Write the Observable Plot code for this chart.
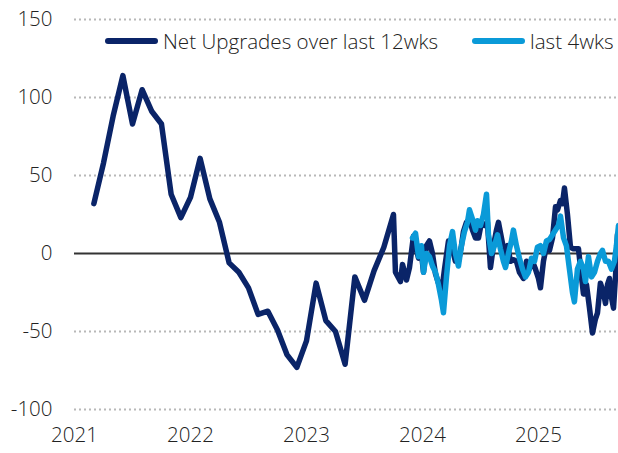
<!DOCTYPE html>
<html><head><meta charset="utf-8">
<script src="https://cdn.jsdelivr.net/npm/d3@7"></script>
<script src="https://cdn.jsdelivr.net/npm/@observablehq/plot@0.6"></script>
<style>
body{margin:0;background:#fff;}
#wrap{position:relative;width:618px;height:453px;font-family:"Open Sans",sans-serif;font-weight:300;color:#222;}
.leg{position:absolute;top:28px;height:26px;display:flex;align-items:center;font-size:20.6px;white-space:nowrap;}
.sw{display:inline-block;width:53px;height:6px;border-radius:3px;margin-right:5px;}
svg text{font-weight:300;}
</style></head>
<body><div id="wrap"></div>
<script>
const xTicks = [2021, 2022, 2023, 2024, 2025];
const yTicks = [-100, -50, 0, 50, 100, 150];
const gridVals = [-100, -50, 50, 100, 150];
const seriesNames = ["Net Upgrades over last 12wks", "last 4wks"];
const seriesColors = ["#0a2468", "#0a9ad8"];

// Net upgrades over last 12 weeks (decimal year, value)
const net12Dates = [2021.167,2021.25,2021.333,2021.417,2021.5,2021.583,2021.667,2021.75,2021.833,2021.917,
 2022.0,2022.083,2022.167,2022.25,2022.333,2022.417,2022.5,2022.583,2022.667,2022.75,2022.833,2022.917,
 2023.0,2023.083,2023.167,2023.25,2023.333,2023.417,2023.5,2023.583,2023.667,2023.75,
 2023.767,2023.81,2023.828,2023.862,2023.888,2023.922,2023.94,2023.966,2023.991,
 2024.009,2024.034,2024.06,2024.086,2024.112,2024.138,2024.164,2024.19,2024.224,2024.25,2024.284,2024.31,2024.336,2024.353,
 2024.379,2024.405,2024.431,2024.457,2024.483,2024.509,2024.534,2024.56,2024.586,2024.612,2024.638,2024.655,2024.681,2024.707,
 2024.733,2024.759,2024.784,2024.81,2024.836,2024.871,2024.897,2024.922,2024.948,2024.974,
 2025.0,2025.017,2025.043,2025.069,2025.095,2025.121,2025.147,2025.164,2025.19,2025.207,2025.224,2025.25,2025.276,2025.302,
 2025.328,2025.345,2025.371,2025.388,2025.414,2025.44,2025.466,2025.491,2025.509,2025.534,2025.56,2025.578,2025.595,2025.612,
 2025.629,2025.647,2025.664,2025.681];
const net12Values = [32,58,88,114,83,105,91,83,38,23,
 36,61,35,20,-6,-12,-22,-39,-37,-49,-65,-73,
 -56,-19,-43,-50,-71,-15,-30,-11,4,25,
 -12,-18,-7,-17,-9,11,5,-3,0,
 -12,5,8,0,-13,-19,-25,-10,8,5,-5,-5,5,14,
 20,22,15,10,10,20,18,20,-9,5,15,20,10,0,
 5,-5,-4,-5,-12,-16,-5,-10,-5,-10,
 -16,-22,-5,5,2,10,30,28,34,32,42,25,4,3,
 3,3,-15,-26,-20,-35,-51,-42,-38,-19,-25,-32,-20,-16,
 -28,-35,-15,12];

// last 4 weeks
const net4Dates = [2023.914,2023.94,2023.966,2023.991,2024.009,2024.034,2024.06,2024.086,2024.112,2024.138,
 2024.164,2024.181,2024.207,2024.233,2024.259,2024.284,2024.31,2024.336,2024.362,2024.388,2024.405,2024.431,
 2024.457,2024.474,2024.5,2024.526,2024.552,2024.569,2024.595,2024.621,2024.647,2024.672,2024.698,2024.716,
 2024.741,2024.767,2024.784,2024.81,2024.836,2024.862,2024.888,2024.914,2024.94,2024.966,2024.991,
 2025.017,2025.043,2025.069,2025.095,2025.121,2025.147,2025.172,2025.19,2025.216,2025.241,2025.267,2025.293,
 2025.31,2025.336,2025.362,2025.388,2025.405,2025.431,2025.457,2025.483,2025.509,2025.534,2025.552,2025.578,
 2025.603,2025.629,2025.655,2025.672,2025.69];
const net4Values = [10,13,-2,5,-12,0,-2,-8,-12,-20,
 -30,-38,-15,5,14,0,-8,5,14,20,28,22,
 15,21,18,25,38,12,0,5,12,3,-5,-9,
 0,8,15,5,-3,-10,-15,-12,-3,-5,4,
 5,0,8,9,12,15,18,24,10,5,-10,-25,
 -31,-10,-5,-10,-18,-2,-15,-12,-5,0,2,-5,
 -5,-10,-5,5,18];

const d12 = net12Dates.map((d, i) => ({x: d, y: net12Values[i]}));
const d4 = net4Dates.map((d, i) => ({x: d, y: net4Values[i]}));

const chart = Plot.plot({
  width: 618, height: 453,
  marginLeft: 74, marginRight: 0, marginTop: 19, marginBottom: 44,
  style: {fontSize: "20.5px", fontFamily: "'Open Sans', sans-serif", color: "#222", background: "#fff"},
  x: {domain: [2021, 2025.69], ticks: xTicks, tickFormat: d => String(d), tickSize: 0, tickPadding: 18, label: null},
  y: {domain: [-100, 150], ticks: yTicks, tickFormat: d => String(d), tickSize: 0, tickPadding: 22, label: null},
  marks: [
    Plot.ruleY(gridVals, {stroke: "#b8b8b8", strokeWidth: 2, strokeDasharray: "2,3"}),
    Plot.ruleY([0], {stroke: "#333", strokeWidth: 2}),
    Plot.line(d12, {x: "x", y: "y", stroke: seriesColors[0], strokeWidth: 5.5, strokeLinejoin: "round", strokeLinecap: "round"}),
    Plot.line(d4, {x: "x", y: "y", stroke: seriesColors[1], strokeWidth: 5.5, strokeLinejoin: "round", strokeLinecap: "round"})
  ]
});
const wrap = document.getElementById("wrap");
wrap.appendChild(chart);
const legPos = [105, 472];
seriesNames.forEach((n, i) => {
  const el = document.createElement("div");
  el.className = "leg";
  el.style.left = legPos[i] + "px";
  el.innerHTML = `<span class="sw" style="background:${seriesColors[i]}"></span><span>${n}</span>`;
  wrap.appendChild(el);
});
</script>
</body></html>
